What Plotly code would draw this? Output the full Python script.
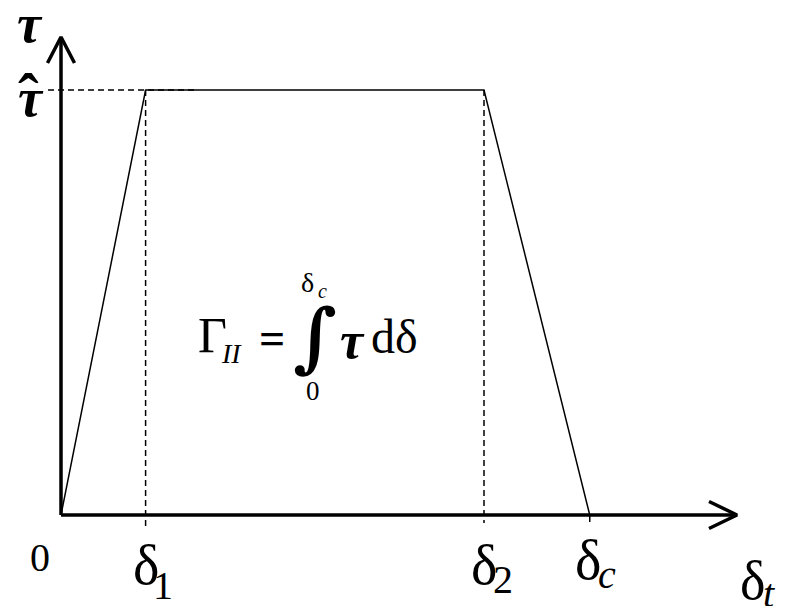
import plotly.graph_objects as go

# Trapezoidal traction–separation law (mode II cohesive zone)
# separations (normalised so that delta_2 = 1) and tractions (normalised so that tau_hat = 1)
delta_pts = [0.0, 0.2, 1.0, 1.25]      # 0, delta_1, delta_2, delta_c
tau_pts = [0.0, 1.0, 1.0, 0.0]
tau_hat = 1.0
delta_1, delta_2, delta_c = delta_pts[1], delta_pts[2], delta_pts[3]

W, H = 785, 606
SX, SY = 423.0, 425.0          # pixels per unit on each axis
ORIGIN_PX = (61, 515)          # pixel position of the origin

x_range = [-ORIGIN_PX[0] / SX, (W - ORIGIN_PX[0]) / SX]
y_range = [-(H - ORIGIN_PX[1]) / SY, ORIGIN_PX[1] / SY]

x_end = (737 - ORIGIN_PX[0]) / SX   # x-axis arrow tip
y_end = (515 - 37) / SY             # y-axis arrow tip
ah_len_x, ah_half_x = 28 / SX, 13.5 / SY
ah_len_y, ah_half_y = 26 / SY, 13.5 / SX

BLACK = "#000000"
FONT = "Liberation Serif"

fig = go.Figure()

# axes
fig.add_trace(go.Scatter(x=[0, x_end], y=[0, 0], mode="lines",
                         line=dict(color=BLACK, width=3.5)))
fig.add_trace(go.Scatter(x=[0, 0], y=[0, y_end], mode="lines",
                         line=dict(color=BLACK, width=3.5)))
# open chevron arrowheads
fig.add_trace(go.Scatter(x=[x_end - ah_len_x, x_end, x_end - ah_len_x],
                         y=[ah_half_x, 0, -ah_half_x], mode="lines",
                         line=dict(color=BLACK, width=3.5)))
fig.add_trace(go.Scatter(x=[-ah_half_y, 0, ah_half_y],
                         y=[y_end - ah_len_y, y_end, y_end - ah_len_y], mode="lines",
                         line=dict(color=BLACK, width=3.5)))

# guide lines
dash = "6px,4px"
fig.add_trace(go.Scatter(x=[-13 / SX, delta_1 * 1.6], y=[tau_hat, tau_hat], mode="lines",
                         line=dict(color=BLACK, width=1.5, dash=dash)))
fig.add_trace(go.Scatter(x=[delta_1, delta_1], y=[tau_hat, -13 / SY], mode="lines",
                         line=dict(color=BLACK, width=1.5, dash=dash)))
fig.add_trace(go.Scatter(x=[delta_2, delta_2], y=[tau_hat, -8 / SY], mode="lines",
                         line=dict(color=BLACK, width=1.5, dash=dash)))
fig.add_trace(go.Scatter(x=[delta_c, delta_c], y=[0, -7 / SY], mode="lines",
                         line=dict(color=BLACK, width=1.5)))

# traction–separation curve
fig.add_trace(go.Scatter(x=delta_pts, y=tau_pts, mode="lines",
                         line=dict(color=BLACK, width=1.5)))


def label(text, x, y, dx, dy, size, xref="x", yref="y", family=FONT):
    fig.add_annotation(text=text, x=x, y=y, xref=xref, yref=yref,
                       xshift=dx, yshift=dy, showarrow=False,
                       xanchor="center", yanchor="middle",
                       font=dict(family=family, size=size, color=BLACK))


def plabel(text, px, py, size, family=FONT):
    label(text, px / W, 1 - py / H, 0, 0, size, xref="paper", yref="paper", family=family)


# axis labels
label("<b><i>τ</i></b>", 0, y_end, -31, 13, 54)
label("<b><i>τ</i></b>", 0, tau_hat, -30, -8, 54)
label("<b>ˆ</b>", 0, tau_hat, -33, -6, 62)
label("0", 0, 0, -21, -42, 40)

label("δ", delta_1, 0, 0, -50, 56)
label("1", delta_1, 0, 17, -70, 40)
label("δ", delta_2, 0, 0, -50, 56)
label("2", delta_2, 0, 19, -64, 40)
label("δ", delta_c, 0, -2, -45, 56)
label("<i>c</i>", delta_c, 0, 17, -59, 40)
label("δ", x_end, 0, 15, -66, 54)
label("<i>t</i>", x_end, 0, 32, -78, 40)

# fracture energy expression
plabel("Γ", 212, 335, 50)
plabel("<i>II</i>", 231, 353, 28)
plabel("<b>=</b>", 272, 338, 46)
plabel("<b>∫</b>", 315, 336, 76, family="DejaVu Serif")
plabel("δ", 307, 282, 28)
plabel("<i>c</i>", 322, 291, 20)
plabel("0", 313, 391, 27)
plabel("<b><i>τ</i></b>", 352, 340, 52)
plabel("dδ", 394, 336, 48)

fig.update_layout(
    width=W, height=H, autosize=False,
    margin=dict(l=0, r=0, t=0, b=0),
    paper_bgcolor="white", plot_bgcolor="white",
    showlegend=False,
    xaxis=dict(range=x_range, visible=False, fixedrange=True),
    yaxis=dict(range=y_range, visible=False, fixedrange=True),
)

fig.write_html("out.html")
